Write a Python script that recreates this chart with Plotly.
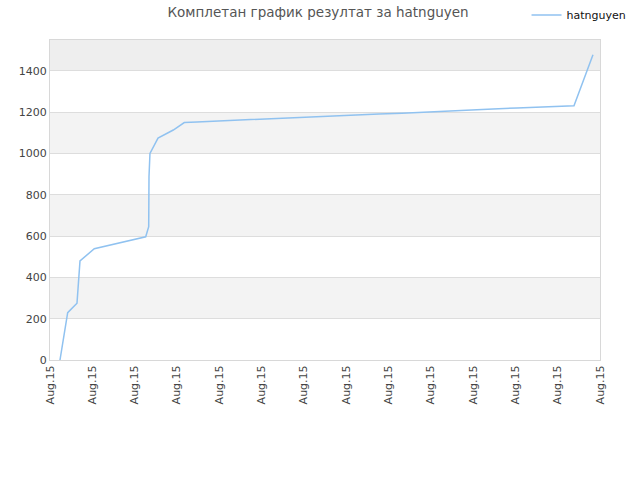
import plotly.graph_objects as go

# x positions measured in tick intervals (0..13), y = cumulative result
x_vals = [0.236, 0.331, 0.418, 0.638, 0.709, 1.047, 2.262, 2.333, 2.340, 2.363,
          2.553, 2.914, 3.174, 3.475, 3.995, 4.538, 5.082, 5.625, 6.169, 6.712,
          7.256, 7.776, 8.320, 8.863, 9.407, 9.950, 10.471, 11.038, 11.581, 12.125,
          12.385, 12.834]
y_vals = [0, 121, 229, 275, 480, 539, 597, 646, 888, 1001,
          1075, 1114, 1150, 1153, 1158, 1163, 1168, 1172, 1177, 1182,
          1187, 1192, 1195, 1201, 1206, 1210, 1216, 1221, 1226, 1229,
          1231, 1478]

tick_pos = list(range(14))
tick_text = ["Aug.15"] * 14
y_ticks = [0, 200, 400, 600, 800, 1000, 1200, 1400]
y_max = 1550

fig = go.Figure()
fig.add_trace(go.Scatter(x=x_vals, y=y_vals, mode='lines', name='hatnguyen',
                         line=dict(color='#90c2f0', width=1.5)))

# alternating bands
bands = [(y_ticks[i], y_ticks[i + 1]) for i in range(1, len(y_ticks) - 1, 2)]
for lo, hi in bands:
    fig.add_shape(type='rect', xref='paper', yref='y', x0=0, x1=1, y0=lo, y1=hi,
                  fillcolor='#f3f3f3', line_width=0, layer='below')
fig.add_shape(type='rect', xref='paper', yref='y', x0=0, x1=1, y0=y_ticks[-1], y1=y_max,
              fillcolor='#eeeeee', line_width=0, layer='below')

fig.update_layout(
    width=640, height=480,
    margin=dict(l=50, r=40, t=40, b=120, autoexpand=False),
    paper_bgcolor='white', plot_bgcolor='white',
    font=dict(family='DejaVu Sans', size=11, color='#444444'),
    title=dict(text='Комплетан график резултат за hatnguyen', x=0.497, y=0.975,
               xanchor='center', yanchor='middle', automargin=False,
               font=dict(family='DejaVu Sans', size=13.5, color='#555555')),
    showlegend=True,
    legend=dict(x=0.8227, y=0.999, xanchor='left', yanchor='top', xref='container', yref='container',
                font=dict(size=11, color='#111111'), bgcolor='rgba(0,0,0,0)'),
    xaxis=dict(range=[0, 13], tickvals=tick_pos, ticktext=tick_text, tickangle=-90,
               showgrid=False, zeroline=False, showline=True, linecolor='#d8d8d8',
               mirror=True, ticks='', automargin=False, tickfont=dict(size=11, color='#444444')),
    yaxis=dict(range=[0, y_max], tickvals=y_ticks, showgrid=True, gridcolor='#dddddd',
               zeroline=False, showline=True, linecolor='#d8d8d8', mirror=True,
               ticks='', automargin=False, tickfont=dict(size=11, color='#444444')),
)

# drop the default page margin so the figure sits at the window's corner
fig.write_html("out.html", config={'displayModeBar': False},
               post_script="document.body.style.margin='0';")
